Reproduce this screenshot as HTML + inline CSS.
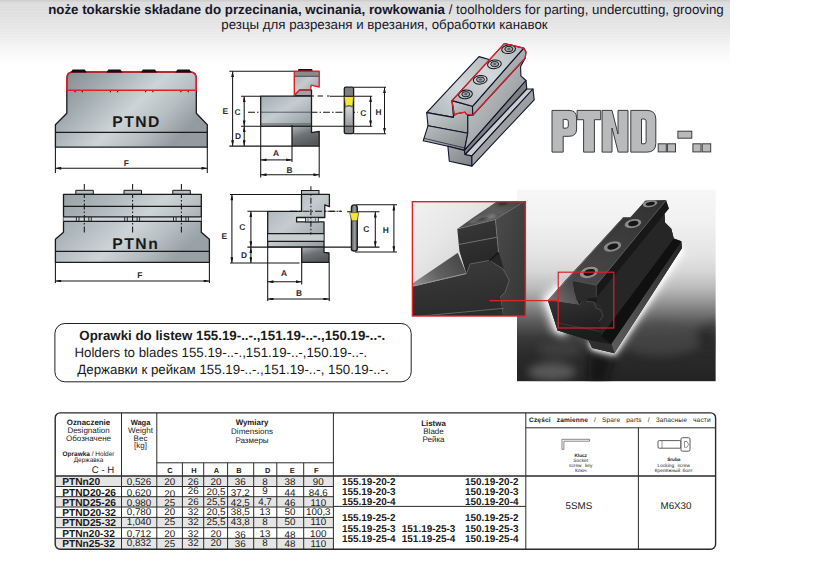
<!DOCTYPE html>
<html lang="pl">
<head>
<meta charset="utf-8">
<title>PTND</title>
<style>
html,body{margin:0;padding:0;background:#fff;}
body{width:820px;height:583px;position:relative;overflow:hidden;font-family:"Liberation Sans",sans-serif;color:#1a1a1a;}
#hdr{position:absolute;left:0;top:0;width:730px;height:70px;background:repeating-linear-gradient(to bottom,rgba(255,255,255,0) 0px,rgba(255,255,255,0) 1.5px,rgba(255,255,255,0.22) 2px,rgba(255,255,255,0) 3px),linear-gradient(to bottom,#cdcdcd 0px,#dcdcdc 3px,#e1e1e1 18px,#e7e7e7 29px,#efefef 40px,#f7f7f7 50px,#fdfdfd 60px,#ffffff 68px);}
.h1{position:absolute;left:0;top:0;width:772px;text-align:center;font-size:12.9px;line-height:15px;white-space:nowrap;color:#1c1c1c;}
.h1 b{font-weight:bold;}
svg{position:absolute;left:0;top:0;}
svg text{font-family:"Liberation Sans",sans-serif;fill:#1a1a1a;text-rendering:geometricPrecision;}
.lb{font-weight:bold;font-size:8.4px;fill:#2b2a33;text-anchor:middle;}
.dim{stroke:#161616;stroke-width:1.05;fill:none;}
.da{stroke:#161616;stroke-width:1.05;fill:none;marker-start:url(#ar);marker-end:url(#ar);}
.ol{stroke:#1a1a1a;stroke-width:1.3;stroke-linejoin:round;}
.hd{font-size:13.3px;fill:#17172a;}
</style>
</head>
<body>
<div id="hdr"></div>

<svg id="art" width="820" height="583" viewBox="0 0 820 583">
<defs>
<linearGradient id="met" x1="0" y1="0" x2="1" y2="0.5">
<stop offset="0" stop-color="#7f868a"/><stop offset="0.3" stop-color="#a2abaf"/><stop offset="0.6" stop-color="#ccd4d7"/><stop offset="0.8" stop-color="#b6bec2"/><stop offset="1" stop-color="#939ba0"/>
</linearGradient>
<linearGradient id="metd" x1="0" y1="0" x2="0.5" y2="1">
<stop offset="0" stop-color="#b0b4b6"/><stop offset="0.5" stop-color="#707375"/><stop offset="1" stop-color="#55585a"/>
</linearGradient>
<linearGradient id="met2" x1="0" y1="0" x2="1" y2="1">
<stop offset="0" stop-color="#a4adb2"/><stop offset="0.45" stop-color="#c4ccd0"/><stop offset="1" stop-color="#909a9f"/>
</linearGradient>
<linearGradient id="insM" x1="0" y1="0" x2="0" y2="1"><stop offset="0" stop-color="#d6d6d6"/><stop offset="1" stop-color="#96999b"/></linearGradient>
<linearGradient id="ins" x1="0" y1="0" x2="1" y2="0">
<stop offset="0" stop-color="#55585a"/><stop offset="0.55" stop-color="#9a9d9f"/><stop offset="1" stop-color="#5a5d5f"/>
</linearGradient>
<linearGradient id="isoTop" x1="0" y1="1" x2="1" y2="0">
<stop offset="0" stop-color="#aeb3b6"/><stop offset="0.5" stop-color="#d3d8da"/><stop offset="1" stop-color="#b4b9bc"/>
</linearGradient>
<linearGradient id="isoF1" x1="0" y1="0" x2="1" y2="1">
<stop offset="0" stop-color="#c9ced1"/><stop offset="1" stop-color="#989da0"/>
</linearGradient>
<linearGradient id="isoF2" x1="0" y1="0" x2="1" y2="1">
<stop offset="0" stop-color="#b9bec1"/><stop offset="1" stop-color="#85898c"/>
</linearGradient>
<linearGradient id="isoF3" x1="0" y1="0" x2="1" y2="1">
<stop offset="0" stop-color="#a4a8ab"/><stop offset="1" stop-color="#7e8285"/>
</linearGradient>
<linearGradient id="isoS1" x1="0" y1="0" x2="1" y2="1">
<stop offset="0" stop-color="#d0d4d7"/><stop offset="0.55" stop-color="#a5a9ac"/><stop offset="1" stop-color="#7c8083"/>
</linearGradient>
<linearGradient id="isoS4" x1="0" y1="0" x2="1" y2="1">
<stop offset="0" stop-color="#b5b9bc"/><stop offset="1" stop-color="#84888b"/>
</linearGradient>
<linearGradient id="phbg" x1="0" y1="0" x2="0" y2="1">
<stop offset="0" stop-color="#f7f7f7"/><stop offset="0.17" stop-color="#f1f1f1"/><stop offset="0.34" stop-color="#e4e4e4"/><stop offset="0.43" stop-color="#d6d6d6"/><stop offset="0.51" stop-color="#bcbcbc"/><stop offset="0.58" stop-color="#999"/><stop offset="0.685" stop-color="#5e5e5e"/><stop offset="0.77" stop-color="#3a3a3a"/><stop offset="0.86" stop-color="#2b2b2b"/><stop offset="1" stop-color="#232323"/>
</linearGradient>
<linearGradient id="tBodyTop" x1="0" y1="1" x2="1" y2="0">
<stop offset="0" stop-color="#777"/><stop offset="0.25" stop-color="#4c4c4c"/><stop offset="1" stop-color="#333"/>
</linearGradient>
<linearGradient id="tStrip" x1="0" y1="1" x2="1" y2="0"><stop offset="0" stop-color="#5c5c5c"/><stop offset="0.5" stop-color="#454545"/><stop offset="1" stop-color="#242424"/></linearGradient>
<linearGradient id="tFront" x1="0" y1="0" x2="0.3" y2="1">
<stop offset="0" stop-color="#333"/><stop offset="1" stop-color="#1c1c1c"/>
</linearGradient>
<filter id="bl4" x="-30%" y="-30%" width="160%" height="160%"><feGaussianBlur stdDeviation="4"/></filter>
<filter id="bl2" x="-30%" y="-30%" width="160%" height="160%"><feGaussianBlur stdDeviation="2"/></filter>
<filter id="bl1" x="-30%" y="-30%" width="160%" height="160%"><feGaussianBlur stdDeviation="0.8"/></filter>
<clipPath id="phclip"><rect x="517" y="189.4" width="198.8" height="192"/></clipPath>
<linearGradient id="tTop" x1="0" y1="1" x2="1" y2="0">
<stop offset="0" stop-color="#4a4a4a"/><stop offset="1" stop-color="#303030"/>
</linearGradient>
<clipPath id="inclip"><rect x="412.4" y="201.7" width="113" height="114.3"/></clipPath>
<linearGradient id="inbg" x1="0" y1="0" x2="1" y2="1">
<stop offset="0" stop-color="#f2f2f2"/><stop offset="0.3" stop-color="#e6e6e6"/><stop offset="0.5" stop-color="#d6d6d6"/><stop offset="1" stop-color="#aaa"/>
</linearGradient>
<linearGradient id="inTop" x1="0" y1="0.6" x2="1" y2="0.2">
<stop offset="0" stop-color="#8a8a8a"/><stop offset="0.4" stop-color="#626262"/><stop offset="1" stop-color="#444"/>
</linearGradient>
<linearGradient id="inSide" x1="0" y1="0" x2="1" y2="1">
<stop offset="0" stop-color="#4c4c4c"/><stop offset="1" stop-color="#343434"/>
</linearGradient>
<linearGradient id="inCT" x1="0" y1="1" x2="1" y2="0">
<stop offset="0" stop-color="#484848"/><stop offset="0.6" stop-color="#5c5c5c"/><stop offset="1" stop-color="#3c3c3c"/>
</linearGradient>
<linearGradient id="inFront" x1="0" y1="0" x2="0.2" y2="1">
<stop offset="0" stop-color="#3c3c3c"/><stop offset="1" stop-color="#2b2b2b"/>
</linearGradient>
<linearGradient id="inClamp" x1="0" y1="0" x2="0.3" y2="1">
<stop offset="0" stop-color="#3a3a3a"/><stop offset="1" stop-color="#262626"/>
</linearGradient>
<linearGradient id="met5" x1="0" y1="0" x2="1" y2="0.5">
<stop offset="0" stop-color="#959ea2"/><stop offset="0.3" stop-color="#adb6ba"/><stop offset="0.6" stop-color="#ccd4d7"/><stop offset="0.8" stop-color="#b6bec2"/><stop offset="1" stop-color="#98a1a5"/>
</linearGradient>
<marker id="ar" viewBox="0 0 8 4" refX="8" refY="2" markerUnits="userSpaceOnUse" markerWidth="6.4" markerHeight="2.9" orient="auto-start-reverse"><path d="M0,0 L8,2 L0,4 z" fill="#161616"/></marker>
</defs>

<text x="48.2" y="14" class="hd"><tspan font-weight="bold">noże tokarskie składane do przecinania, wcinania, rowkowania</tspan> / toolholders for parting, undercutting, grooving</text>
<text x="221.3" y="28.7" class="hd">резцы для разрезаня и врезания, обработки канавок</text>

<!-- ===== PTND front view ===== -->
<g id="v1">
<path d="M55.4,147.1 V124.7 L66.8,113.3 V78.5 Q66.8,72 73.3,72 H189.8 Q196.3,72 196.3,78.5 V113.3 L207.3,124.7 V147.1 Z" fill="url(#met)" class="ol"/>
<path d="M55.4,132.4 H207.3" class="ol" fill="none"/>
<path d="M75.1,90.5 v1.8 M82.3,90.5 v1.8 M110.4,90.5 v1.8 M117.6,90.5 v1.8 M145.6,90.5 v1.8 M152.9,90.5 v1.8 M180.9,90.5 v1.8 M188.2,90.5 v1.8" stroke="#111" stroke-width="1.1" fill="none"/>
<path d="M66.8,90.3 V78.5 Q66.8,72 73.3,72 H189.8 Q196.3,72 196.3,78.5 V90.3 Z" fill="none" stroke="#e0202a" stroke-width="1.4"/>
<path d="M70.5,72.4 l2.2,-3 h12 l2.2,3z M106.2,72.4 l2.2,-3 h12 l2.2,3z M140.7,72.4 l2.2,-3 h12 l2.2,3z M175.3,72.4 l2.2,-3 h12 l2.2,3z" fill="#111"/>
<text x="112.2" y="126.5" font-weight="bold" font-size="15.7" letter-spacing="1.5" fill="#2a2622">PTND</text>
<path d="M55.4,147.1 V173 M207.3,147.1 V173" class="dim"/>
<path d="M55.4,168.2 H207.3" class="da"/>
<text x="126.3" y="165.6" class="lb">F</text>
</g>

<!-- ===== PTND side view ===== -->
<g id="v2">
<path d="M229.3,71.2 H294 M229.3,146.1 H292 M241,96.2 H260.7 M241,126.2 H372.2 M330,96.3 H372.2 M353.5,87.2 H386 M353.5,133.7 H386" class="dim"/>
<path d="M311.5,96 H330" class="dim" stroke-dasharray="2.5,3.5,5.5,4"/>
<path d="M248,112.2 H357.5" class="dim" stroke-dasharray="7,2,1.5,2"/>
<path d="M232.6,71.2 V146.1" class="da"/><path d="M244.2,96.2 V126.2" class="da"/><path d="M244.2,126.2 V146.1" class="da"/><path d="M370.6,96.3 V126.2" class="da"/><path d="M384.5,87.2 V133.7" class="da"/>
<path d="M260.7,126.2 V177.4 M292,146.1 V162 M319.2,146.1 V177.4" class="dim"/>
<path d="M260.7,159.9 H292" class="da"/><path d="M260.7,174.8 H319.2" class="da"/>
<!-- lower block -->
<path d="M292,126.2 H311.5 V132.6 L319.2,131.3 V146.1 H292 Z" fill="url(#metd)" class="ol"/>
<!-- neck -->
<path d="M294.3,96 V95.2 L299.7,89.8 H311.5 V96 Z" fill="#9ea3a6" class="ol"/>
<!-- body -->
<rect x="260.7" y="96.2" width="50.8" height="30" fill="url(#met2)" class="ol"/>
<path d="M260.7,112.2 H311.5 M260.7,124 H311.5" stroke="#333" stroke-width="0.7" fill="none"/>
<path d="M290.6,126.2 l1.2,-1.3 l1.4,1.3z" fill="#111"/>
<!-- clamp -->
<rect x="298" y="69" width="14.5" height="2.6" rx="1" fill="#111"/>
<path d="M294.3,71.3 H319.2 V87 L311.2,85.1 L310.5,89.6 L299.7,89.8 L294.3,95.2 Z" fill="url(#met2)"/>
<path d="M294.3,71.3 H319.2 V76.3 H294.3 Z" fill="#888c8f"/>
<path d="M294.3,76.3 H319.2" stroke="#333" stroke-width="0.8"/>
<path d="M294.3,71.3 H319.2 V87 L311.2,85.1 L310.5,89.6 L299.7,89.8 L294.3,95.2 Z" fill="none" stroke="#e0202a" stroke-width="1.4" stroke-linejoin="round"/>
<!-- insert -->
<path d="M344.3,88.6 Q344.3,87.2 346,87.2 H352 Q353.6,87.2 353.6,88.6 V132.3 Q353.6,133.7 352,133.7 H346 Q344.3,133.7 344.3,132.3 Z" fill="#7c8184" class="ol" stroke-width="1.4"/>
<path d="M345.6,107.8 Q349,105.6 352.4,107.8 V126.2 H345.6 Z" fill="url(#insM)"/>
<path d="M344.3,96.3 H353.6 L352.6,106.2 Q349,104.6 345.5,106.2 Z" fill="#f6e53a" stroke="#333" stroke-width="0.5"/>
<path d="M344.3,96.3 H353.6 M344.3,126.2 H353.6" stroke="#161616" stroke-width="1" fill="none"/>
<text x="225.3" y="114" class="lb">E</text>
<text x="237.6" y="115.2" class="lb">C</text>
<text x="238" y="139" class="lb">D</text>
<text x="276" y="155.8" class="lb">A</text>
<text x="289.6" y="172.7" class="lb">B</text>
<text x="363.4" y="115.9" class="lb">C</text>
<text x="378.6" y="115.1" class="lb">H</text>
</g>

<!-- ===== PTND iso view ===== -->
<g id="v3" stroke="#12122a" stroke-width="1.1" stroke-linejoin="round">
<!-- body top face -->
<path d="M426.7,112.6 L479,56.6 L490,59.8 L452,101 L453.5,117.4 Z" fill="url(#isoTop)"/>
<!-- front faces -->
<path d="M426.7,112.6 L453.4,117.4 L454,112 L467.8,111 V133.2 L428,125.7 Z" fill="url(#isoF1)"/>
<path d="M428,125.7 L467.8,133.2 L464.4,150.4 L447.9,146.2 L423.2,140.8 Z" fill="url(#isoF2)"/>
<path d="M424,138.3 L464.8,148" fill="none" stroke-width="0.7"/>
<path d="M447.9,146.2 L464.4,150.4 L465.1,154.5 L471.9,155.9 V166.1 L449.3,161.3 Z" fill="url(#isoF3)"/>
<!-- side faces -->
<path d="M467.8,115.4 L472.8,115.2 L525.2,58.1 L520.6,66.6 L520.9,75.9 L526,80.5 L464.4,150.4 L467.8,133.2 Z" fill="url(#isoS1)"/>
<path d="M464.4,150.4 L526,80.5 L526.8,89 L465.1,154.5 Z" fill="#7d8184"/>
<path d="M465.1,154.5 L526.8,89 L533,89 L471.9,155.9 Z" fill="#c9cdd0"/>
<path d="M471.9,155.9 L533,89 L534.2,99.8 L471.9,166.1 Z" fill="url(#isoS4)"/>
<!-- clamp -->
<path d="M452,100.6 L472.5,106.3 L472.8,115.2 L466.6,114.5 L465,112.2 L456.6,113.7 L454.3,115.2 Z" fill="url(#isoF1)"/>
<path d="M523.7,48.1 L526,52 L525.2,58.1 L472.8,115.2 L472.5,106.3 Z" fill="url(#isoS1)"/>
<path d="M504.4,43.5 L523.7,48.1 L472.5,106.3 L452,100.6 Z" fill="url(#isoTop)"/>
<g fill="none" stroke="#15151f" stroke-width="1.05">
<ellipse cx="508.6" cy="49.2" rx="6.9" ry="4.3" transform="rotate(-8 508.6 49.2)"/><ellipse cx="508.90000000000003" cy="49.0" rx="4" ry="2.6" fill="#a4a8ab" stroke-width="0.95"/><ellipse cx="508.90000000000003" cy="49.0" rx="1.6" ry="1.1" fill="#5a5d60" stroke="none"/>
<ellipse cx="494.4" cy="64.3" rx="6.9" ry="4.3" transform="rotate(-8 494.4 64.3)"/><ellipse cx="494.7" cy="64.1" rx="4" ry="2.6" fill="#a4a8ab" stroke-width="0.95"/><ellipse cx="494.7" cy="64.1" rx="1.6" ry="1.1" fill="#5a5d60" stroke="none"/>
<ellipse cx="480.2" cy="79.8" rx="6.9" ry="4.3" transform="rotate(-8 480.2 79.8)"/><ellipse cx="480.5" cy="79.6" rx="4" ry="2.6" fill="#a4a8ab" stroke-width="0.95"/><ellipse cx="480.5" cy="79.6" rx="1.6" ry="1.1" fill="#5a5d60" stroke="none"/>
<ellipse cx="465.5" cy="94.4" rx="6.9" ry="4.3" transform="rotate(-8 465.5 94.4)"/><ellipse cx="465.8" cy="94.2" rx="4" ry="2.6" fill="#a4a8ab" stroke-width="0.95"/><ellipse cx="465.8" cy="94.2" rx="1.6" ry="1.1" fill="#5a5d60" stroke="none"/>
</g>
<path d="M504.4,43.5 L523.7,48.1 L526,52 L525.2,58.1 L472.8,115.2 L466.6,114.5 L465,112.2 L456.6,113.7 L454.3,115.2 L452,100.6 Z" fill="none" stroke="#e0202a" stroke-width="1.2"/>
</g>

<!-- ===== big PTND..-.. ===== -->
<g id="v4" fill="#b9babc" stroke="#3c3c3c" stroke-width="1" fill-rule="evenodd" stroke-linejoin="miter">
<path d="M552,110.4 H569 Q576.6,110.4 576.6,118 V129 Q576.6,136.3 569,136.3 H563.2 V152.1 H552 Z M563.2,119.4 H566 Q568.3,119.4 568.3,121.5 V126 Q568.3,128.2 566,128.2 H563.2 Z"/>
<path d="M577.1,110.4 H600.7 V119.7 H594.4 V152.1 H583.6 V119.7 H577.1 Z"/>
<path d="M602.1,110.4 H612 L618,134 V110.4 H628 V152.1 H618.2 L612,128 V152.1 H602.1 Z"/>
<path d="M630.8,110.4 H647 Q655.8,110.4 655.8,119 V143.5 Q655.8,152.1 647,152.1 H630.8 Z M641.5,119 H644 Q646.1,119 646.1,121 V141.8 Q646.1,143.8 644,143.8 H641.5 Z"/>
<rect x="658.2" y="143.8" width="8.1" height="8.1"/><rect x="667.4" y="143.8" width="8.1" height="8.1"/>
<rect x="677.9" y="131.2" width="13.9" height="7"/>
<rect x="692.9" y="143.8" width="8.1" height="8.1"/><rect x="702.2" y="143.8" width="8.5" height="8.1"/>
</g>

<!-- ===== PTNn front view ===== -->
<g id="v5">
<path d="M75.8,194.3 v-4 h17.5 v4z M124,194.3 v-4 h17.5 v4z M172.8,194.3 v-4 h17.5 v4z" fill="#b9bec1" stroke="#1a1a1a" stroke-width="1"/>
<path d="M55.4,262.3 V239.3 L63.5,232.2 V194.3 H201.3 V232.2 L209.4,239.3 V262.3 Z" fill="url(#met5)" class="ol"/>
<rect x="63.5" y="216.9" width="137.8" height="4.4" fill="#ccd5d9"/>
<path d="M63.5,206.3 H201.3 M63.5,216.9 H201.3 M63.5,221.3 H201.3 M55.4,251.3 H209.4" class="ol" fill="none" stroke-width="1.1"/>
<path d="M76.4,216.9 v4.4 M79.0,216.9 v4.4 M88.8,216.9 v4.4 M91.3,216.9 v4.4 M124.7,216.9 v4.4 M127.3,216.9 v4.4 M137.1,216.9 v4.4 M139.6,216.9 v4.4 M173.5,216.9 v4.4 M176.1,216.9 v4.4 M185.9,216.9 v4.4 M188.4,216.9 v4.4 " stroke="#222" stroke-width="0.9" fill="none"/>
<path d="M84.3,184 V189.8 M132.6,184 V189.8 M181.4,184 V189.8" class="dim" stroke-width="0.9"/><path d="M84.3,195 V232.7 M132.6,195 V232.7 M181.4,195 V232.7" class="dim" stroke-width="0.9" stroke-dasharray="6,2,1.5,2" stroke-dashoffset="3"/>
<text x="112.3" y="248.5" font-weight="bold" font-size="15.7" letter-spacing="1.5" fill="#2a2622">PTNn</text>
<path d="M55.4,262.3 V283 M209.4,262.3 V283" class="dim"/>
<path d="M55.4,281 H209.4" class="da"/>
<text x="139.9" y="278" class="lb">F</text>
</g>

<!-- ===== PTNn side view ===== -->
<g id="v6">
<path d="M230,194.4 H301.5 M230,263 H299.6 M247.4,211.3 H267.7 M247.4,247.1 H379.5 M347,211.7 H379.5 M356,204.8 H397 M355,252 H397" class="dim"/>
<path d="M324,211.3 H342" class="dim" stroke-dasharray="2.5,3,6,3"/>
<path d="M310.9,186.3 V234.5" class="dim" stroke-dasharray="6,2,1.5,2"/>
<path d="M231.9,194.4 V263" class="da"/><path d="M250.9,211.3 V247.1" class="da"/><path d="M250.9,247.1 V263" class="da"/><path d="M375.3,211.7 V247.1" class="da"/><path d="M393.9,204.8 V252" class="da"/>
<path d="M267.7,246.9 V301 M301.7,262.4 V284.5 M329.2,262.4 V301" class="dim"/>
<path d="M267.7,281.8 H301.7" class="da"/><path d="M267.7,299 H329.2" class="da"/>
<!-- lower block -->
<path d="M301.7,246.9 H324 V252.3 L329,253 V262.4 H301.7 Z" fill="url(#metd)" class="ol"/>
<!-- screw head -->
<rect x="301.5" y="190.5" width="17.5" height="4" fill="#b9bec1" stroke="#1a1a1a" stroke-width="1"/>
<!-- body + upper block -->
<path d="M267.7,211.3 H301.5 V194.4 H329.4 V206.7 L324.8,204.9 V217.5 H296.6 V221.9 H324 V246.9 H267.7 Z" fill="url(#met2)" class="ol"/>
<rect x="305.5" y="217.5" width="12.8" height="4.4" fill="#c6d0d6" stroke="#1a1a1a" stroke-width="0.8"/>
<path d="M308,217.5 v4.4 M315.5,217.5 v4.4" stroke="#444" stroke-width="0.6"/>
<rect x="268.2" y="233.7" width="55.3" height="7.7" fill="#c9ced1"/>
<path d="M267.7,233.7 H324 M267.7,241.4 H324" class="ol" fill="none" stroke-width="1.1"/>
<path d="M310.9,194.4 V234.5" class="dim" stroke-dasharray="6,2,1.5,2" stroke-dashoffset="8.1"/>
<path d="M290,211.3 H342" class="dim" stroke-width="0.7" stroke-dasharray="7,2,1.5,2"/>
<!-- insert -->
<path d="M351.4,208 Q351.4,204.9 354.3,204.9 Q357.3,204.9 357.3,208 V249 Q357.3,251 354.3,251 Q351.4,251 351.4,249 Z" fill="url(#ins)" class="ol"/>
<path d="M349.6,212.6 H358.8 L357.2,220.8 H351.7 Z" fill="#f6e53a" stroke="#333" stroke-width="0.6"/>
<text x="224.3" y="239.3" class="lb">E</text>
<text x="242.3" y="230" class="lb">C</text>
<text x="244" y="257.6" class="lb">D</text>
<text x="284" y="276.4" class="lb">A</text>
<text x="299.1" y="296" class="lb">B</text>
<text x="366.3" y="232.1" class="lb">C</text>
<text x="385.8" y="232.8" class="lb">H</text>
</g>

<!-- ===== text box ===== -->
<g id="v7">
<rect x="54.9" y="323.5" width="356.3" height="58.3" rx="10" ry="10" fill="#fff" stroke="#222" stroke-width="1"/>
<text id="t1" x="79.3" y="339.5" font-size="13.3" font-weight="bold" fill="#1a1a1a">Oprawki do listew 155.19-..-.,151.19-..-.,150.19-..-.</text>
<text id="t2" x="74.4" y="356.5" font-size="13.3" fill="#1a1a1a">Holders to blades 155.19-..-.,151.19-..-,150.19-..-.</text>
<text id="t3" x="77.3" y="373.6" font-size="13.3" fill="#1a1a1a">Державки к рейкам 155.19-..-.,151.19-..-, 150.19-..-.</text>
</g>


<!-- ===== photo ===== -->
<g id="photo" clip-path="url(#phclip)">
<rect x="517" y="189.4" width="198.8" height="192" fill="url(#phbg)"/>
<!-- floor reflections -->
<g filter="url(#bl4)" opacity="0.6">
<ellipse cx="552" cy="372" rx="24" ry="9" fill="#7a7a7a"/>
<ellipse cx="560" cy="350" rx="22" ry="8" fill="#4a4a4a"/>
<ellipse cx="660" cy="340" rx="40" ry="16" fill="#4c4c4c"/>
<path d="M590,350 L614,356 L606,384 L588,384 Z" fill="#0c0c0c"/>
<path d="M695,330 L716,322 L716,352 L700,350 Z" fill="#222"/>
</g>
<!-- halo -->
<g filter="url(#bl4)" fill="#fff" opacity="0.7">
<path d="M541,297 L560,280 L572,300 L566,338 L552,332 Z"/>
<path d="M562,332 L590,341 L592,350 L615,356 L686,250 L676,246 L612,345 Z"/>
</g>
<g filter="url(#bl2)" fill="#fff" opacity="0.85">
<path d="M545,299 L560,284 L570,300 L564,334 L556,331.5 Z"/>
<path d="M588,341 L591.5,349.5 L615,355 L684.5,249 L678,246 L612,346 Z"/>
</g>
<!-- tool silhouette -->
<path d="M645.4,200.8 L666,200.3 L668.8,208.5 L664.5,213.8 L665,222.5 L671.3,228.8 L673.8,238.5 L681.3,241.3 L682,248 L614.3,353.2 L592.1,348.1 L588.5,339.9 L557.6,330.5 L547.8,300.3 L561.3,285 L623,217.5 L631,217.5 Z" fill="#1b1b1b"/>
<!-- base side strip -->
<path d="M611.2,344 L614.3,353.2 L682,248 L681.3,241.3 Z" fill="url(#tStrip)"/>
<path d="M601,336 L611.2,344 L681.3,241.3 L673.8,238.5 Z" fill="#101010"/>
<!-- body right upper -->
<path d="M596.3,297.5 L668.8,208.5 L664.5,213.8 L665,222.5 L671.3,228.8 L673.8,238.5 L601,336 L598,318 Z" fill="#262626"/>
<!-- body top (left of clamp) -->
<path d="M547.8,300.3 L623,217.5 L631,217.5 L572.7,280.5 L574.6,291.8 L579.3,305 Z" fill="url(#tBodyTop)"/>
<path d="M548.5,300 L623,217.8" stroke="#8a8a8a" stroke-width="0.8" fill="none" opacity="0.8"/>
<!-- body front -->
<path d="M547.8,300.3 L579.3,305 L582.5,300.5 L596.3,302.5 L601,306 L604,314 L600,320 L601,336 L588.5,339.9 L557.6,330.5 Z" fill="url(#tFront)"/>
<path d="M555.5,322.5 L600.5,331.5" stroke="#3d3d3d" stroke-width="0.8" fill="none"/>
<path d="M579.3,305 L582.5,300.5 L594,302.3 L596,308 L601,310 L603,316 L599,321.5" stroke="#4a4a4a" stroke-width="0.9" fill="none"/>
<path d="M588.5,339.9 L592.1,348.1 L614.3,353.2 L611.2,344 Z" fill="#2e2e2e"/>
<!-- clamp -->
<path d="M572.7,280.5 L596.3,285.2 L596.3,297.5 L588,298.5 L586,302 L577,301 L574.6,291.8 Z" fill="#2b2b2b"/>
<path d="M596.3,285.2 L666,200.3 L668.8,208.5 L596.3,297.5 Z" fill="#181818"/>
<path d="M645.4,200.8 L666,200.3 L596.3,285.2 L572.7,280.5 Z" fill="url(#tTop)"/>
<path d="M596.3,285.2 L666,200.3" stroke="#6a6a6a" stroke-width="0.8" fill="none"/>
<path d="M572.7,280.5 L596.3,285.2 V297" stroke="#5a5a5a" stroke-width="0.7" fill="none"/>
<!-- screws -->
<g stroke="none">
<ellipse cx="650" cy="203.7" rx="7.4" ry="3.3" fill="#8c8c8c" transform="rotate(-10 650 203.7)"/><ellipse cx="650.3" cy="203.8" rx="4.6" ry="1.9" fill="#161616" transform="rotate(-10 650 203.7)"/>
<ellipse cx="633" cy="223.5" rx="8.4" ry="4.3" fill="#8a8a8a" transform="rotate(-12 633 223.5)"/><ellipse cx="633.3" cy="223.6" rx="5.2" ry="2.5" fill="#161616" transform="rotate(-12 633 223.5)"/>
<ellipse cx="612.5" cy="246.5" rx="8.9" ry="4.9" fill="#888" transform="rotate(-14 612.5 246.5)"/><ellipse cx="612.8" cy="246.6" rx="5.6" ry="2.9" fill="#161616" transform="rotate(-14 612.5 246.5)"/>
<ellipse cx="589" cy="272.4" rx="9.4" ry="5.3" fill="#909090" transform="rotate(-16 589 272.4)"/><ellipse cx="589.3" cy="272.5" rx="6" ry="3.2" fill="#161616" transform="rotate(-16 589 272.4)"/>
</g>
</g>

<!-- ===== inset ===== -->
<g id="inset" clip-path="url(#inclip)">
<rect x="412.4" y="201.7" width="113" height="114.3" fill="url(#inbg)"/>
<path d="M411.0,284.5 L457.8,252.8 L466.4,273.8 L411.0,286.9 Z" fill="url(#inTop)"/>
<path d="M495.4,219.6 L526.3,200.1 L526.3,319.4 L503.7,319.4 L500.6,296.8 L505.1,292.3 L509.2,280.3 L503.0,269.0 L498.5,252.5 Z" fill="url(#inSide)"/>
<path d="M457.3,228.9 L495.4,219.6 L526.3,200.1 L498.9,200.1 L471.8,218.6 Z" fill="url(#inCT)"/>
<path d="M468.7,223.1 L477.9,217.6 L493.4,214.1 L496.5,216.9 L480.0,222.3 Z" fill="#7d7d7d" filter="url(#bl1)"/>
<path d="M472.8,221.9 L481.0,218.2 L490.3,216.5 L483.1,220.2 Z" fill="#262626" filter="url(#bl1)"/>
<path d="M497.5,203.1 L506.7,201.1 L506.7,204.2 L499.5,205.2 Z" fill="#2a2a2a" filter="url(#bl1)"/>
<path d="M411.0,286.9 L466.4,273.8 L470.1,263.9 L489.3,260.4 L503.0,269.0 L509.2,280.3 L505.1,292.3 L500.6,296.8 L503.7,319.4 L411.0,319.4 Z" fill="url(#inFront)"/>
<path d="M488.2,261.0 L492.3,257.3 L498.9,251.9 L503.9,269.6 Z" fill="#262626"/>
<path d="M457.3,228.9 L495.4,219.6 L498.5,252.5 L492.8,257.7 L489.3,260.4 L470.1,263.9 L466.4,273.8 L459.4,251.1 Z" fill="url(#inClamp)"/>
<path d="M411.0,286.5 L466.4,273.5" stroke="#a0a0a0" stroke-width="1.1" fill="none" opacity="0.85"/>
<path d="M458.6,244.5 L497.7,237.1" stroke="#858585" stroke-width="0.9" fill="none" opacity="0.85"/>
<path d="M457.3,228.9 L495.4,219.6 L498.5,252.5" stroke="#808080" stroke-width="0.8" fill="none" opacity="0.85"/>
<path d="M466.4,273.8 L470.1,263.9 L489.3,260.4 L503.0,269.0 L509.2,280.3 L505.1,292.3 L500.6,296.8" stroke="#5a5a5a" stroke-width="1" fill="none"/>
<path d="M489.3,260.4 L492.8,257.7 L498.5,252.5" stroke="#141414" stroke-width="1.3" fill="none"/>
<path d="M411.0,317.0 L503.7,308.3" stroke="#7a7a7a" stroke-width="0.9" fill="none" opacity="0.8"/>
</g>
<rect x="412.4" y="201.7" width="113" height="114.3" fill="none" stroke="#e0202a" stroke-width="1.4"/>
<rect x="558.2" y="272.2" width="55.6" height="55.8" fill="none" stroke="#e0202a" stroke-width="1.2"/>
<path d="M489.6,300.6 H558.2" stroke="#e0202a" stroke-width="1.2"/>
<!-- PH_END -->
<!-- ===== table ===== -->
<g id="tbl">
<rect x="55.2" y="476.0" width="278.2" height="10.5" fill="#e5e5e5"/>
<rect x="55.2" y="496.7" width="278.2" height="10.3" fill="#e5e5e5"/>
<rect x="55.2" y="517.4" width="278.2" height="10.3" fill="#e5e5e5"/>
<rect x="55.2" y="538.3" width="278.2" height="11.0" fill="#e5e5e5"/>
<path d="M121.5,412.9V549.3M156.8,412.9V549.3M333.4,412.9V549.3M525.8,412.9V549.3M638.4,427.8V549.3M182.4,462.8V549.3M203.7,462.8V549.3M227.6,462.8V549.3M253.7,462.8V549.3M276.8,462.8V549.3M303.7,462.8V549.3M156.8,462.8H333.4M525.8,427.8H715.6M333.4,506.4H525.8M55.2,486.5H333.4M55.2,496.7H333.4M55.2,507.0H333.4M55.2,517.4H333.4M55.2,527.7H333.4M55.2,538.3H333.4" stroke="#2a2a2a" stroke-width="1" fill="none"/>
<path d="M55.2,476H715.6" stroke="#2a2a2a" stroke-width="1.3" fill="none"/>
<rect x="55.2" y="412.9" width="660.4" height="136.4" rx="5" ry="5" fill="none" stroke="#2a2a2a" stroke-width="1.4"/>
<text x="88.5" y="424.8" font-size="7.9" text-anchor="middle" font-weight="bold">Oznaczenie</text>
<text x="88.5" y="433.3" font-size="8.0" text-anchor="middle">Designation</text>
<text x="88.5" y="441.4" font-size="8.0" text-anchor="middle">Обозначене</text>
<text x="88.5" y="455.5" font-size="6.5" text-anchor="middle"><tspan font-weight="bold">Oprawka</tspan> / Holder</text>
<text x="88.5" y="462.3" font-size="6.5" text-anchor="middle">Державка</text>
<text x="103" y="473.4" font-size="9.6" text-anchor="middle">C - H</text>
<text x="140.5" y="424.8" font-size="7.5" text-anchor="middle" font-weight="bold">Waga</text>
<text x="140.5" y="433.3" font-size="8.0" text-anchor="middle">Weight</text>
<text x="140.5" y="441.2" font-size="8.0" text-anchor="middle">Вес</text>
<text x="140.5" y="447.9" font-size="8.0" text-anchor="middle">[kg]</text>
<text x="252" y="424.8" font-size="7.9" text-anchor="middle" font-weight="bold">Wymiary</text>
<text x="252" y="433.6" font-size="8.0" text-anchor="middle">Dimensions</text>
<text x="252" y="442.6" font-size="8.0" text-anchor="middle">Размеры</text>
<text x="433.5" y="425.7" font-size="7.9" text-anchor="middle" font-weight="bold">Listwa</text>
<text x="433.5" y="433.9" font-size="8.0" text-anchor="middle">Blade</text>
<text x="433.5" y="442.0" font-size="8.0" text-anchor="middle">Рейка</text>
<text x="170" y="472.7" font-size="7.4" text-anchor="middle" font-weight="bold">C</text>
<text x="193.9" y="472.7" font-size="7.4" text-anchor="middle" font-weight="bold">H</text>
<text x="216.3" y="472.7" font-size="7.4" text-anchor="middle" font-weight="bold">A</text>
<text x="239" y="472.7" font-size="7.4" text-anchor="middle" font-weight="bold">B</text>
<text x="267.6" y="472.7" font-size="7.4" text-anchor="middle" font-weight="bold">D</text>
<text x="292.2" y="472.7" font-size="7.4" text-anchor="middle" font-weight="bold">E</text>
<text x="316.3" y="472.7" font-size="7.4" text-anchor="middle" font-weight="bold">F</text>
<text x="62.2" y="484.6" font-size="10.2" text-anchor="start" font-weight="bold">PTNn20</text>
<text x="62.2" y="496.0" font-size="10.2" text-anchor="start" font-weight="bold">PTND20-26</text>
<text x="62.2" y="505.8" font-size="10.2" text-anchor="start" font-weight="bold">PTND25-26</text>
<text x="62.2" y="515.6" font-size="10.2" text-anchor="start" font-weight="bold">PTND20-32</text>
<text x="62.2" y="526.0" font-size="10.2" text-anchor="start" font-weight="bold">PTND25-32</text>
<text x="62.2" y="536.5" font-size="10.2" text-anchor="start" font-weight="bold">PTNn20-32</text>
<text x="62.2" y="546.7" font-size="10.2" text-anchor="start" font-weight="bold">PTNn25-32</text>
<text x="139.0" y="484.6" font-size="9.8" text-anchor="middle">0,526</text>
<text x="139.0" y="496.2" font-size="9.8" text-anchor="middle">0,620</text>
<text x="139.0" y="506.0" font-size="9.8" text-anchor="middle">0,980</text>
<text x="139.0" y="515.2" font-size="9.8" text-anchor="middle">0,780</text>
<text x="139.0" y="525.2" font-size="9.8" text-anchor="middle">1,040</text>
<text x="139.0" y="536.5" font-size="9.8" text-anchor="middle">0,712</text>
<text x="139.0" y="546.2" font-size="9.8" text-anchor="middle">0,832</text>
<text x="169.8" y="484.6" font-size="9.8" text-anchor="middle">20</text>
<text x="169.8" y="496.5" font-size="9.8" text-anchor="middle">20</text>
<text x="169.8" y="506.0" font-size="9.8" text-anchor="middle">25</text>
<text x="169.8" y="515.2" font-size="9.8" text-anchor="middle">20</text>
<text x="169.8" y="525.2" font-size="9.8" text-anchor="middle">25</text>
<text x="169.8" y="536.5" font-size="9.8" text-anchor="middle">20</text>
<text x="169.8" y="547.4" font-size="9.8" text-anchor="middle">25</text>
<text x="193.3" y="484.6" font-size="9.8" text-anchor="middle">26</text>
<text x="193.3" y="494.0" font-size="9.8" text-anchor="middle">26</text>
<text x="193.3" y="504.5" font-size="9.8" text-anchor="middle">26</text>
<text x="193.3" y="515.2" font-size="9.8" text-anchor="middle">32</text>
<text x="193.3" y="525.2" font-size="9.8" text-anchor="middle">32</text>
<text x="193.3" y="536.5" font-size="9.8" text-anchor="middle">32</text>
<text x="193.3" y="546.2" font-size="9.8" text-anchor="middle">32</text>
<text x="216.0" y="484.6" font-size="9.8" text-anchor="middle">20</text>
<text x="216.0" y="494.8" font-size="9.8" text-anchor="middle">20,5</text>
<text x="216.0" y="504.8" font-size="9.8" text-anchor="middle">25,5</text>
<text x="216.0" y="515.2" font-size="9.8" text-anchor="middle">20,5</text>
<text x="216.0" y="525.2" font-size="9.8" text-anchor="middle">25,5</text>
<text x="216.0" y="536.5" font-size="9.8" text-anchor="middle">20</text>
<text x="216.0" y="546.2" font-size="9.8" text-anchor="middle">20</text>
<text x="240.3" y="484.6" font-size="9.8" text-anchor="middle">36</text>
<text x="240.3" y="496.2" font-size="9.8" text-anchor="middle">37,2</text>
<text x="240.3" y="506.0" font-size="9.8" text-anchor="middle">42,5</text>
<text x="240.3" y="515.2" font-size="9.8" text-anchor="middle">38,5</text>
<text x="240.3" y="525.2" font-size="9.8" text-anchor="middle">43,8</text>
<text x="240.3" y="537.7" font-size="9.8" text-anchor="middle">36</text>
<text x="240.3" y="547.4" font-size="9.8" text-anchor="middle">36</text>
<text x="265.0" y="484.6" font-size="9.8" text-anchor="middle">8</text>
<text x="265.0" y="493.8" font-size="9.8" text-anchor="middle">9</text>
<text x="265.0" y="504.8" font-size="9.8" text-anchor="middle">4,7</text>
<text x="265.0" y="515.2" font-size="9.8" text-anchor="middle">13</text>
<text x="265.0" y="525.2" font-size="9.8" text-anchor="middle">8</text>
<text x="265.0" y="536.5" font-size="9.8" text-anchor="middle">13</text>
<text x="265.0" y="546.2" font-size="9.8" text-anchor="middle">8</text>
<text x="290.0" y="484.6" font-size="9.8" text-anchor="middle">38</text>
<text x="290.0" y="496.2" font-size="9.8" text-anchor="middle">44</text>
<text x="290.0" y="506.0" font-size="9.8" text-anchor="middle">46</text>
<text x="290.0" y="515.2" font-size="9.8" text-anchor="middle">50</text>
<text x="290.0" y="525.2" font-size="9.8" text-anchor="middle">50</text>
<text x="290.0" y="537.7" font-size="9.8" text-anchor="middle">48</text>
<text x="290.0" y="547.4" font-size="9.8" text-anchor="middle">48</text>
<text x="318.3" y="484.6" font-size="9.8" text-anchor="middle">90</text>
<text x="318.3" y="496.2" font-size="9.8" text-anchor="middle">84,6</text>
<text x="318.3" y="506.0" font-size="9.8" text-anchor="middle">110</text>
<text x="318.3" y="515.2" font-size="9.8" text-anchor="middle">100,3</text>
<text x="318.3" y="525.2" font-size="9.8" text-anchor="middle">110</text>
<text x="318.3" y="536.5" font-size="9.8" text-anchor="middle">100</text>
<text x="318.3" y="546.7" font-size="9.8" text-anchor="middle">110</text>
<text x="342" y="485.0" font-size="9.95" text-anchor="start" font-weight="bold">155.19-20-2</text>
<text x="464.9" y="485.0" font-size="9.95" text-anchor="start" font-weight="bold">150.19-20-2</text>
<text x="342" y="494.9" font-size="9.95" text-anchor="start" font-weight="bold">155.19-20-3</text>
<text x="464.9" y="494.9" font-size="9.95" text-anchor="start" font-weight="bold">150.19-20-3</text>
<text x="342" y="504.6" font-size="9.95" text-anchor="start" font-weight="bold">155.19-20-4</text>
<text x="464.9" y="504.6" font-size="9.95" text-anchor="start" font-weight="bold">150.19-20-4</text>
<text x="342" y="520.7" font-size="9.95" text-anchor="start" font-weight="bold">155.19-25-2</text>
<text x="464.9" y="520.7" font-size="9.95" text-anchor="start" font-weight="bold">150.19-25-2</text>
<text x="342" y="531.8" font-size="9.95" text-anchor="start" font-weight="bold">155.19-25-3</text>
<text x="401.8" y="531.8" font-size="9.95" text-anchor="start" font-weight="bold">151.19-25-3</text>
<text x="464.9" y="531.8" font-size="9.95" text-anchor="start" font-weight="bold">150.19-25-3</text>
<text x="342" y="541.6" font-size="9.95" text-anchor="start" font-weight="bold">155.19-25-4</text>
<text x="401.8" y="541.6" font-size="9.95" text-anchor="start" font-weight="bold">151.19-25-4</text>
<text x="464.9" y="541.6" font-size="9.95" text-anchor="start" font-weight="bold">150.19-25-4</text>
<text x="529" y="421.9" font-size="6.55" textLength="181.7" lengthAdjust="spacing" word-spacing="4"><tspan font-weight="bold">Części zamienne</tspan> / Spare parts / Запасные части</text>
<path d="M562,449.3 V439.3 H589.6 V441.2 H563.9 V449.3 Z" fill="#fff" stroke="#555" stroke-width="0.7"/>
<text x="580.7" y="456.5" font-size="4.7" text-anchor="middle" font-weight="bold">Klucz</text>
<text x="580.7" y="461.6" font-size="4.8" text-anchor="middle">Socket</text>
<text x="580.7" y="466.7" font-size="4.8" text-anchor="middle" word-spacing="2">screw  key</text>
<text x="580.7" y="472.0" font-size="4.8" text-anchor="middle">Ключ</text>
<g stroke="#333" stroke-width="0.8" fill="#fff"><rect x="658" y="440.6" width="23" height="7.6" rx="1.2"/><rect x="681" y="437.7" width="9" height="13.5" rx="1.5"/><path d="M684.5,441.5 l2.5,0 l1.5,2.9 l-1.5,2.9 l-2.5,0 z" stroke-width="0.5" fill="none"/><path d="M662,440.6 v7.6" stroke-width="0.5"/></g>
<text x="673.8" y="460.5" font-size="4.7" text-anchor="middle" font-weight="bold">Śruba</text>
<text x="673.8" y="466.7" font-size="4.8" text-anchor="middle" word-spacing="2">Locking  screw</text>
<text x="673.8" y="471.5" font-size="4.8" text-anchor="middle" word-spacing="1">Крепёжный  болт</text>
<text x="578.9" y="509.1" font-size="9.8" text-anchor="middle">5SMS</text>
<text x="676" y="509.1" font-size="9.8" text-anchor="middle">M6X30</text>
</g>
<!-- TBL_END -->
</svg>
</body>
</html>
